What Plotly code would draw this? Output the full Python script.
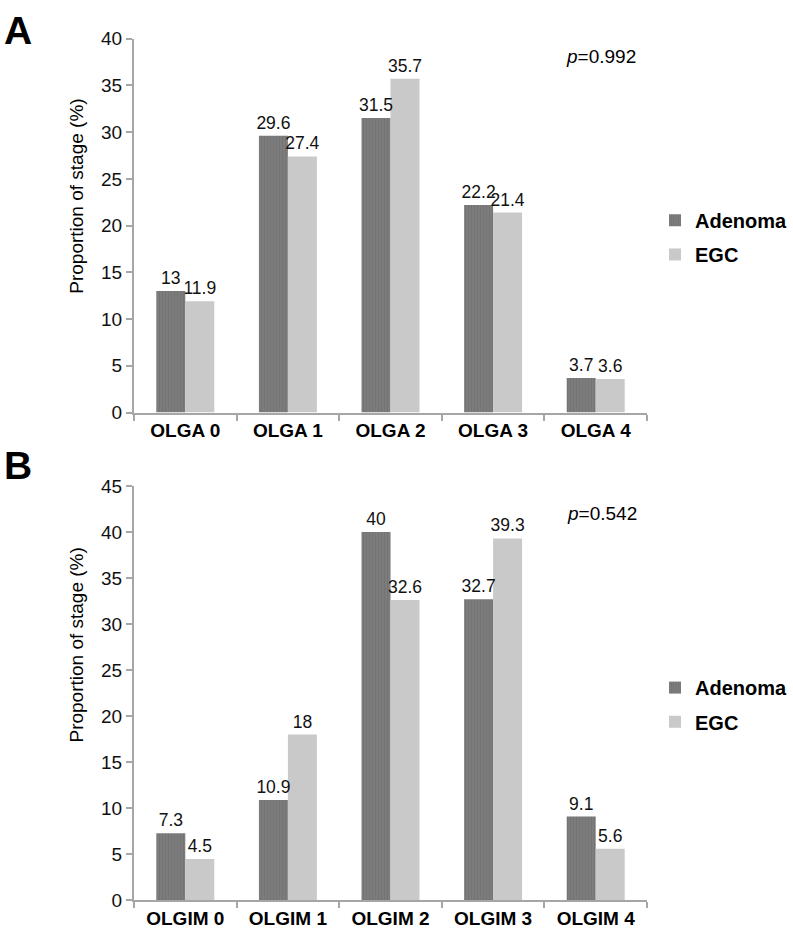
import plotly.graph_objects as go

cats_a = ["OLGA 0", "OLGA 1", "OLGA 2", "OLGA 3", "OLGA 4"]
adenoma_a = [13, 29.6, 31.5, 22.2, 3.7]
egc_a = [11.9, 27.4, 35.7, 21.4, 3.6]

cats_b = ["OLGIM 0", "OLGIM 1", "OLGIM 2", "OLGIM 3", "OLGIM 4"]
adenoma_b = [7.3, 10.9, 40, 32.7, 9.1]
egc_b = [4.5, 18, 32.6, 39.3, 5.6]

yticks_a = [0, 5, 10, 15, 20, 25, 30, 35, 40]
yticks_b = [0, 5, 10, 15, 20, 25, 30, 35, 40, 45]

p_a = "0.992"
p_b = "0.542"

W, H = 793, 944
FONT = "Liberation Sans, Arial, sans-serif"
DARK = "#7c7c7c"
LIGHT = "#c9c9c9"
AXIS = "#a6a6a6"
LABEL_FONT = dict(size=17.5, color="#111", family=FONT)

fig = go.Figure()

def add_bars(cats, ad, eg, xa, ya, lg1, lg2):
    fig.add_trace(go.Bar(
        x=cats, y=ad, name="Adenoma", xaxis=xa, yaxis=ya, legend=lg1, showlegend=True,
        offsetgroup="ad",
        marker=dict(color=DARK, line=dict(width=0),
                    pattern=dict(shape="|", fgcolor="#6c6c6c", bgcolor=DARK, size=3, solidity=0.35)),
    ))
    fig.add_trace(go.Bar(
        x=cats, y=eg, name="EGC", xaxis=xa, yaxis=ya, legend=lg2, showlegend=True,
        offsetgroup="eg",
        marker=dict(color=LIGHT, line=dict(width=0)),
    ))
    # transparent copies that carry the value labels, drawn on top of all bars
    for vals, og in ((ad, "ad"), (eg, "eg")):
        fig.add_trace(go.Bar(
            x=cats, y=vals, xaxis=xa, yaxis=ya, showlegend=False, offsetgroup=og,
            marker=dict(color="rgba(0,0,0,0)", line=dict(width=0)),
            text=[f"{v:g}" for v in vals], textposition="outside", cliponaxis=False,
            constraintext="none", textfont=LABEL_FONT, hoverinfo="skip",
        ))

add_bars(cats_a, adenoma_a, egc_a, "x", "y", "legend", "legend2")
add_bars(cats_b, adenoma_b, egc_b, "x2", "y2", "legend3", "legend4")

xdom = [134 / W, 647 / W]
ydom_a = [1 - 411.7 / H, 1 - 29.3 / H]
ydom_b = [1 - 910.7 / H, 1 - 486.7 / H]

def xaxis(anchor):
    return dict(domain=xdom, anchor=anchor, showline=True, linecolor=AXIS, linewidth=2,
                ticks="outside", ticklen=6, tickcolor=AXIS, tickwidth=2,
                tickson="boundaries", showgrid=False, zeroline=False,
                tickfont=dict(size=19, color="#000", family=FONT, weight="bold"))

def yaxis(anchor, dom, ticks):
    return dict(domain=dom, anchor=anchor, range=[0, max(ticks)], tickvals=ticks,
                showline=True, linecolor=AXIS, linewidth=2, ticks="outside", ticklen=6,
                tickcolor=AXIS, tickwidth=2, showgrid=False, zeroline=False,
                tickfont=dict(size=19, color="#111", family=FONT))

legend_style = dict(font=dict(size=20, color="#000", family=FONT, weight="bold"),
                    bgcolor="rgba(0,0,0,0)", xanchor="left", yanchor="middle",
                    itemwidth=30, x=655 / W)

fig.update_layout(
    width=W, height=H, margin=dict(l=0, r=0, t=0, b=0),
    paper_bgcolor="white", plot_bgcolor="white", showlegend=True,
    font=dict(family=FONT),
    barmode="group", bargap=0.435, bargroupgap=0,
    xaxis=xaxis("y"), yaxis=yaxis("x", ydom_a, yticks_a),
    xaxis2=xaxis("y2"), yaxis2=yaxis("x2", ydom_b, yticks_b),
    legend=dict(y=1 - 215 / H, **legend_style),
    legend2=dict(y=1 - 250 / H, **legend_style),
    legend3=dict(y=1 - 693 / H, **legend_style),
    legend4=dict(y=1 - 728 / H, **legend_style),
)

annots = [
    dict(text="<b>A</b>", x=2 / W, y=1 - 21 / H, xanchor="left", yanchor="middle", font=dict(size=39)),
    dict(text="<b>B</b>", x=2 / W, y=1 - 466 / H, xanchor="left", yanchor="middle", font=dict(size=39)),
    dict(text=f"<i>p</i>={p_a}", x=601 / W, y=1 - 48 / H, xanchor="center", yanchor="middle", font=dict(size=19)),
    dict(text=f"<i>p</i>={p_b}", x=602 / W, y=1 - 515 / H, xanchor="center", yanchor="middle", font=dict(size=19)),
    dict(text="Proportion of stage (%)", x=77 / W, y=1 - 191 / H, textangle=-90,
         xanchor="center", yanchor="middle", font=dict(size=19)),
    dict(text="Proportion of stage (%)", x=77 / W, y=1 - 650 / H, textangle=-90,
         xanchor="center", yanchor="middle", font=dict(size=19)),
]
for a in annots:
    a.update(xref="paper", yref="paper", showarrow=False)
    a["font"].update(color="#000", family=FONT)
    fig.add_annotation(**a)

fig.write_html("out.html", config={"displayModeBar": False},
               post_script="document.body.style.margin='0px';document.body.style.overflow='hidden';")
